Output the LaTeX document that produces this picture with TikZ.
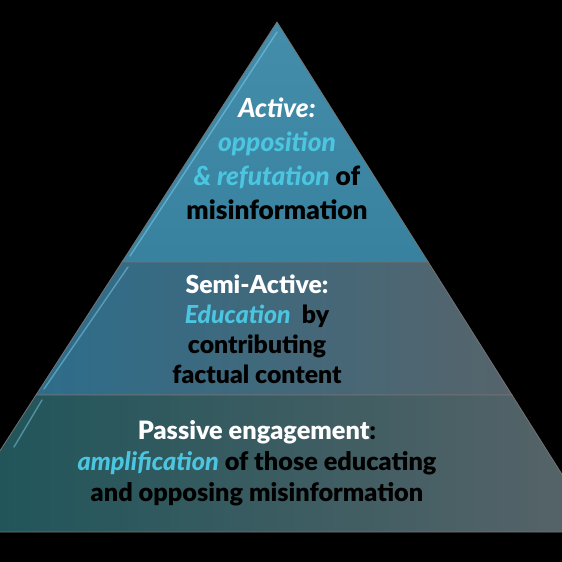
\documentclass[tikz,border=0pt]{standalone}
\usepackage{fontspec}
\setmainfont{Lato}[BoldFont={Lato Black}, BoldItalicFont={Lato Black Italic}]
\usepackage{tikz}
\usetikzlibrary{calc}

\definecolor{toptier}{HTML}{3A87A6}
\definecolor{midleft}{HTML}{2D6D8B}
\definecolor{midright}{HTML}{56646B}
\definecolor{baseleft}{HTML}{1C5459}
\definecolor{baseright}{HTML}{586469}
\definecolor{hilite}{HTML}{4CC6E0}

\begin{document}
\begin{tikzpicture}[
    x=1pt, y=-1pt,
    tier/.style={line width=0.8pt, draw=black!55},
    bevel/.style={line width=1.4pt, draw=cyan!45!white, opacity=0.45, line cap=round},
    tiertext/.style={align=center, text=black, font=\bfseries\fontsize{25}{31}\selectfont}
]

\fill[black] (0,0) rectangle (562,562);
\useasboundingbox (0,0) rectangle (562,562);

% corners of the three tiers
\coordinate (apex) at (277,22);
\coordinate (topl) at (122.0,262);
\coordinate (topr) at (428.2,262);
\coordinate (midl) at (36.0,395);
\coordinate (midr) at (512.0,395);
\coordinate (basel) at (-52.5,532);
\coordinate (baser) at (598.3,532);

\shade[tier, top color=toptier!95!white, bottom color=toptier!96!black]
    (apex) -- (topr) -- (topl) -- cycle;
\shade[tier, left color=midleft, right color=midright]
    (topl) -- (topr) -- (midr) -- (midl) -- cycle;
\shade[tier, left color=baseleft, right color=baseright]
    (midl) -- (midr) -- (baser) -- (basel) -- cycle;

% light bevel along the left faces
\draw[bevel] ($(apex)+(0,10)$) -- ($(topl)+(8,-6)$);
\draw[bevel] ($(topl)+(6,5)$) -- ($(midl)+(8,-6)$);
\draw[bevel] ($(midl)+(6,5)$) -- ($(midl)+(-22,52)$);

\node[tiertext, font=\bfseries\fontsize{26.3}{34}\selectfont] (active) at (277,159)
    {\textit{\color{white}Active:}\\
     \textcolor{hilite}{\textit{opposition}}\\
     \textcolor{hilite}{\textit{\& refutation}} of\\
     misinformation};

\node[tiertext, font=\bfseries\fontsize{24.8}{30}\selectfont] (semi) at (257,329)
    {\textcolor{white}{Semi-Active:}\\
     \textcolor{hilite}{\textit{Education}}\ \ by\\
     contributing\\
     factual content};

\node[tiertext, font=\bfseries\fontsize{25.3}{31}\selectfont] (passive) at (257,463)
    {\textcolor{white}{Passive engagement}:\\
     \textcolor{hilite}{\textit{amplification}} of those educating\\
     and opposing misinformation};

\end{tikzpicture}
\end{document}
